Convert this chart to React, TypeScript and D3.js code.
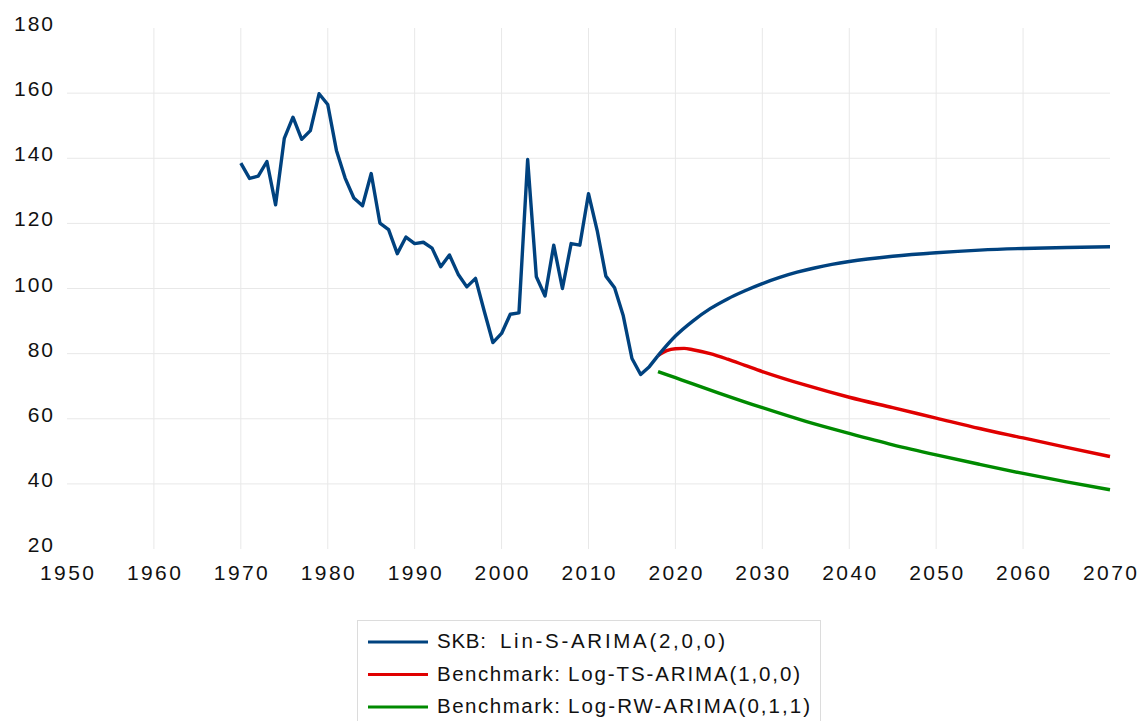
import React, { useEffect, useRef } from 'react'
import * as d3 from 'd3'

// historical series (1970-2018)
const histYears = [
  1970, 1971, 1972, 1973, 1974, 1975, 1976, 1977, 1978, 1979, 1980, 1981, 1982, 1983, 1984, 1985,
  1986, 1987, 1988, 1989, 1990, 1991, 1992, 1993, 1994, 1995, 1996, 1997, 1998, 1999, 2000, 2001,
  2002, 2003, 2004, 2005, 2006, 2007, 2008, 2009, 2010, 2011, 2012, 2013, 2014, 2015, 2016, 2017,
  2018,
]
const histValues = [
  138.5, 133.8, 134.5, 139.0, 125.7, 146.1, 152.6, 145.8, 148.5, 159.8, 156.5, 142.4, 133.9, 127.8,
  125.4, 135.3, 120.1, 118.1, 110.7, 115.8, 113.8, 114.2, 112.4, 106.7, 110.3, 104.4, 100.5, 103.1,
  93.1, 83.4, 86.2, 92.1, 92.5, 139.6, 103.6, 97.7, 113.3, 100.0, 113.8, 113.3, 129.1, 117.8, 103.8,
  100.2, 91.6, 78.5, 73.6, 76.0, 79.4,
]

// forecasts
const skbYears = [
  2018, 2020, 2022, 2024, 2026, 2028, 2030, 2032, 2034, 2036, 2038, 2040, 2045, 2050, 2055, 2060,
  2065, 2070,
]
const skbValues = [
  79.4, 85.4, 90.0, 93.8, 96.8, 99.3, 101.5, 103.4, 105.0, 106.3, 107.4, 108.3, 109.9, 111.0, 111.8,
  112.3, 112.6, 112.8,
]

const tsYears = [2018, 2019, 2020, 2021, 2022, 2024, 2026, 2028, 2030, 2035, 2040, 2045, 2050, 2055, 2060, 2065, 2070]
const tsValues = [79.4, 80.9, 81.5, 81.6, 81.2, 80.0, 78.3, 76.4, 74.5, 70.3, 66.6, 63.4, 60.2, 57.0, 54.1, 51.2, 48.4]

const rwYears = [2018, 2020, 2022, 2025, 2030, 2035, 2040, 2045, 2050, 2055, 2060, 2065, 2070]
const rwValues = [74.5, 72.6, 70.7, 67.9, 63.4, 59.2, 55.5, 52.0, 48.9, 46.0, 43.2, 40.6, 38.2]

const xTicks = [1950, 1960, 1970, 1980, 1990, 2000, 2010, 2020, 2030, 2040, 2050, 2060, 2070]
const yTicks = [20, 40, 60, 80, 100, 120, 140, 160, 180]

const legendPrefix = ['SKB:', 'Benchmark:', 'Benchmark:']
const legendModel = ['Lin-S-ARIMA(2,0,0)', 'Log-TS-ARIMA(1,0,0)', 'Log-RW-ARIMA(0,1,1)']
const colors = ['#00427f', '#e00000', '#008a00']

const width = 1142
const height = 721
const margin = { top: 28, right: 32, bottom: 172, left: 67 }
const font = '"Liberation Sans", Arial, sans-serif'

const App: React.FC = () => {
  const svgRef = useRef<SVGSVGElement>(null)

  useEffect(() => {
    const svg = d3.select(svgRef.current)
    svg.selectAll('*').remove()

    const x = d3.scaleLinear().domain([1950, 2070]).range([margin.left, width - margin.right])
    const y = d3.scaleLinear().domain([20, 180]).range([height - margin.bottom, margin.top])

    const grid = svg.append('g')
    grid
      .selectAll('line.v')
      .data(xTicks.filter((d) => d !== 1950 && d !== 2070))
      .enter()
      .append('line')
      .attr('x1', (d) => x(d))
      .attr('x2', (d) => x(d))
      .attr('y1', y(180))
      .attr('y2', y(20))
      .attr('stroke', '#e8e8e8')
    grid
      .selectAll('line.h')
      .data(yTicks.filter((d) => d !== 20 && d !== 180))
      .enter()
      .append('line')
      .attr('x1', x(1950))
      .attr('x2', x(2070))
      .attr('y1', (d) => y(d))
      .attr('y2', (d) => y(d))
      .attr('stroke', '#e8e8e8')

    // axis labels
    svg
      .append('g')
      .selectAll('text')
      .data(yTicks)
      .enter()
      .append('text')
      .attr('x', 55)
      .attr('y', (d) => y(d) + 3)
      .attr('text-anchor', 'end')
      .style('font-family', font)
      .style('font-size', '21px')
      .style('letter-spacing', '2px')
      .attr('fill', '#111')
      .text((d) => d)

    svg
      .append('g')
      .selectAll('text')
      .data(xTicks)
      .enter()
      .append('text')
      .attr('x', (d) => x(d) + 1.2)
      .attr('y', 580)
      .attr('text-anchor', 'middle')
      .style('font-family', font)
      .style('font-size', '21px')
      .style('letter-spacing', '2.4px')
      .attr('fill', '#111')
      .text((d) => d)

    const linear = d3
      .line<[number, number]>()
      .x((d) => x(d[0]))
      .y((d) => y(d[1]))
    const smooth = d3
      .line<[number, number]>()
      .x((d) => x(d[0]))
      .y((d) => y(d[1]))
      .curve(d3.curveMonotoneX)

    const series: Array<{ pts: Array<[number, number]>; color: string; gen: typeof linear }> = [
      { pts: rwYears.map((d, i) => [d, rwValues[i]]), color: colors[2], gen: smooth },
      { pts: tsYears.map((d, i) => [d, tsValues[i]]), color: colors[1], gen: smooth },
      { pts: skbYears.map((d, i) => [d, skbValues[i]]), color: colors[0], gen: smooth },
      { pts: histYears.map((d, i) => [d, histValues[i]]), color: colors[0], gen: linear },
    ]
    series.forEach((s) => {
      svg
        .append('path')
        .attr('d', s.gen(s.pts))
        .attr('fill', 'none')
        .attr('stroke', s.color)
        .attr('stroke-width', 3.4)
        .attr('stroke-linejoin', 'round')
    })

    // legend
    const lg = svg.append('g')
    lg.append('rect')
      .attr('x', 357.5)
      .attr('y', 620.5)
      .attr('width', 463)
      .attr('height', 120)
      .attr('fill', '#fff')
      .attr('stroke', '#dcdcdc')
    const prefixW = [49, 123, 123]
    const modelX = [500, 568, 568]
    const modelW = [225, 232, 242]
    legendPrefix.forEach((prefix, i) => {
      const ly = 642 + i * 32.5
      lg.append('line')
        .attr('x1', 368)
        .attr('x2', 428)
        .attr('y1', ly)
        .attr('y2', ly)
        .attr('stroke', colors[i])
        .attr('stroke-width', 3)
      lg.append('text')
        .attr('x', 437)
        .attr('y', ly + 6)
        .attr('textLength', prefixW[i])
        .attr('lengthAdjust', 'spacing')
        .style('font-family', font)
        .style('font-size', '20.5px')
        .attr('fill', '#111')
        .text(prefix)
      lg.append('text')
        .attr('x', modelX[i])
        .attr('y', ly + 6)
        .attr('textLength', modelW[i])
        .attr('lengthAdjust', 'spacing')
        .style('font-family', font)
        .style('font-size', '20.5px')
        .attr('fill', '#111')
        .text(legendModel[i])
    })
  }, [])

  return (
    <svg
      ref={svgRef}
      width={width}
      height={height}
      style={{ position: 'absolute', left: 0, top: 0, background: '#fff' }}
    />
  )
}

export default App
